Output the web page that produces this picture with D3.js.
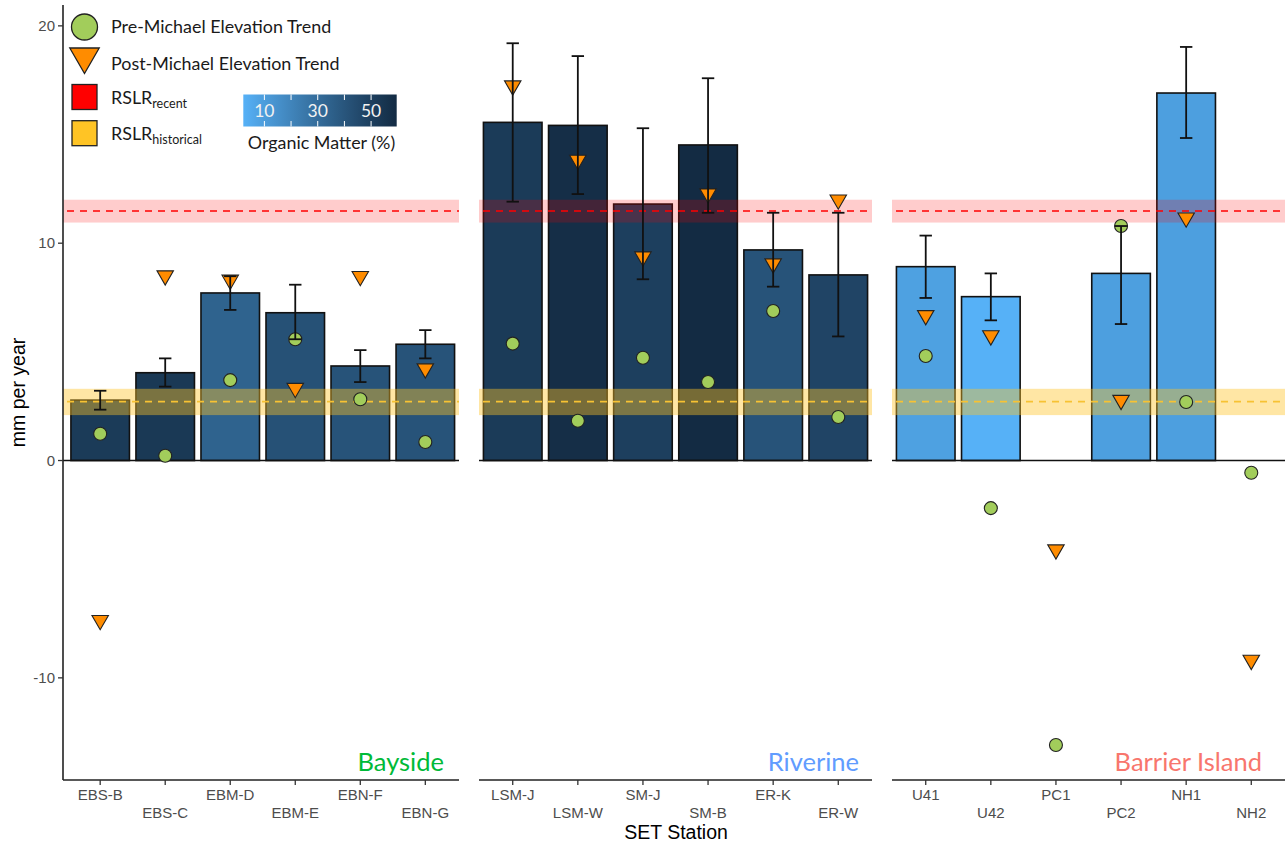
<!DOCTYPE html>
<html>
<head>
<meta charset="utf-8">
<script src="https://cdn.jsdelivr.net/npm/d3@7"></script>
<style>
  body { margin: 0; background: #fff; }
  svg { display: block; }
</style>
</head>
<body>
<svg id="chart" width="1285" height="843"></svg>
<script>
// ---- data ----
const regions = ["Bayside", "Riverine", "Barrier Island"];
const regionColors = ["#00BA38", "#619CFF", "#F8766D"];
const stations = ["EBS-B","EBS-C","EBM-D","EBM-E","EBN-F","EBN-G",
                  "LSM-J","LSM-W","SM-J","SM-B","ER-K","ER-W",
                  "U41","U42","PC1","PC2","NH1","NH2"];
const stationRegion = ["Bayside","Bayside","Bayside","Bayside","Bayside","Bayside",
                       "Riverine","Riverine","Riverine","Riverine","Riverine","Riverine",
                       "Barrier Island","Barrier Island","Barrier Island","Barrier Island","Barrier Island","Barrier Island"];
// long-term elevation trend (bar) with its error range
const barTrend = [2.78, 4.04, 7.71, 6.80, 4.35, 5.35, 15.56, 15.42, 11.80, 14.52, 9.69, 8.54, 8.92, 7.54, null, 8.61, 16.91, null];
const errLow   = [2.34, 3.40, 6.93, 5.58, 3.61, 4.70, 11.91, 12.26, 8.34, 11.40, 8.00, 5.71, 7.48, 6.45, null, 6.28, 14.84, null];
const errHigh  = [3.21, 4.70, 8.48, 8.09, 5.08, 6.00, 19.20, 18.61, 15.29, 17.59, 11.40, 11.40, 10.35, 8.61, null, 10.79, 19.03, null];
const preMichael  = [1.23, 0.22, 3.70, 5.58, 2.82, 0.85, 5.38, 1.83, 4.73, 3.61, 6.88, 2.00, 4.81, -2.19, -13.09, 10.79, 2.69, -0.56];
const postMichael = [-7.35, 8.51, 8.31, 3.33, 8.48, 4.23, 17.25, 13.83, 9.38, 12.28, 9.06, 12.00, 6.68, 5.75, -4.10, 2.78, 11.17, -9.18];
const organicMatter = [52, 53, 34, 42, 41, 41, 52, 58, 50, 59.6, 41, 47.5, 8.5, 2.1, null, 9, 9, null];
// sea-level rise rates: [lower, mean, upper]
const rslrRecent = [10.95, 11.48, 12.00];
const rslrHistorical = [2.09, 2.71, 3.30];
const yTicks = [-10, 0, 10, 20];
const omTicks = [10, 20, 30, 40, 50];
const omLabels = [10, 30, 50];

// ---- layout ----
const svg = d3.select("#chart");
const plotTop = 5, plotBottom = 780;
const panels = [
  { left: 63, right: 459, bandLeft: 66.5, labelInset: 15 },
  { left: 479, right: 872, bandLeft: 479, labelInset: 13 },
  { left: 892, right: 1285, bandLeft: 892, labelInset: 23 }
];
const y = d3.scaleLinear().domain([-14.70, 20.96]).range([plotBottom, plotTop]);

const omExtent = d3.extent(organicMatter.filter(v => v != null));
const fill = d3.scaleLinear().domain(omExtent).range(["#56B1F7", "#132B43"]).interpolate(d3.interpolateLab);

const pointGreen = "#A2CD5B";
const triOrange = "#FF8C00";
const triR = 9.5;
const triPath = r => {
  const xc = r * Math.sqrt(3) / 2;
  return `M${-xc},${-r / 2}L${xc},${-r / 2}L0,${r}Z`;
};

const rows = stations.map((s, i) => ({
  station: s, region: stationRegion[i], bar: barTrend[i], lo: errLow[i], hi: errHigh[i],
  pre: preMichael[i], post: postMichael[i], om: organicMatter[i]
}));

const tickFont = "'Liberation Sans', Arial, sans-serif";
const labelFont = "Lato, 'Open Sans', sans-serif";

regions.forEach((reg, pi) => {
  const p = panels[pi];
  const data = rows.filter(d => d.region === reg);
  const x = d3.scaleBand().domain(data.map(d => d.station))
    .range([p.bandLeft, p.right]).paddingInner(0.1).paddingOuter(0.068);
  const bw = x.bandwidth();
  const cx = d => x(d.station) + bw / 2;
  const g = svg.append("g");

  // bars
  g.selectAll("rect.bar").data(data.filter(d => d.bar != null)).join("rect")
    .attr("x", d => x(d.station)).attr("width", bw)
    .attr("y", d => y(d.bar)).attr("height", d => y(0) - y(d.bar))
    .attr("fill", d => fill(d.om)).attr("stroke", "#111").attr("stroke-width", 1.6);

  // RSLR bands and dashed lines
  [[rslrRecent, "#FF0000", 0.2, "#FF0000"], [rslrHistorical, "#FFC425", 0.42, "#F7C233"]].forEach(([r, c, a, lc]) => {
    g.append("rect").attr("x", p.left).attr("width", p.right - p.left)
      .attr("y", y(r[2])).attr("height", y(r[0]) - y(r[2]))
      .attr("fill", c).attr("fill-opacity", a);
    g.append("line").attr("x1", p.left + 4).attr("x2", p.right)
      .attr("y1", y(r[1])).attr("y2", y(r[1]))
      .attr("stroke", lc).attr("stroke-width", 1.6).attr("stroke-dasharray", "7,6");
  });

  // zero line
  g.append("line").attr("x1", p.left).attr("x2", p.right)
    .attr("y1", y(0)).attr("y2", y(0)).attr("stroke", "#111").attr("stroke-width", 1.6);

  // pre-Michael points
  g.selectAll("circle.pre").data(data).join("circle")
    .attr("cx", cx).attr("cy", d => y(d.pre)).attr("r", 6.5)
    .attr("fill", pointGreen).attr("stroke", "#222").attr("stroke-width", 1.1);

  // post-Michael points
  g.selectAll("path.post").data(data).join("path")
    .attr("d", triPath(triR))
    .attr("transform", d => `translate(${cx(d)},${y(d.post)})`)
    .attr("fill", triOrange).attr("stroke", "#222").attr("stroke-width", 1.1);

  // error bars
  const eb = data.filter(d => d.lo != null);
  const cap = 6.2;
  g.selectAll("line.ev").data(eb).join("line")
    .attr("x1", cx).attr("x2", cx).attr("y1", d => y(d.lo)).attr("y2", d => y(d.hi))
    .attr("stroke", "#111").attr("stroke-width", 1.8);
  ["lo", "hi"].forEach(k => {
    g.selectAll("line.cap" + k).data(eb).join("line")
      .attr("x1", d => cx(d) - cap).attr("x2", d => cx(d) + cap)
      .attr("y1", d => y(d[k])).attr("y2", d => y(d[k]))
      .attr("stroke", "#111").attr("stroke-width", 1.8);
  });

  // bottom axis
  g.append("line").attr("x1", p.left).attr("x2", p.right)
    .attr("y1", plotBottom).attr("y2", plotBottom).attr("stroke", "#222").attr("stroke-width", 1.6);
  data.forEach((d, i) => {
    g.append("line").attr("x1", cx(d)).attr("x2", cx(d))
      .attr("y1", plotBottom).attr("y2", plotBottom + 5).attr("stroke", "#333").attr("stroke-width", 1.3);
    g.append("text").attr("x", cx(d)).attr("y", plotBottom + (i % 2 === 0 ? 20 : 38))
      .attr("text-anchor", "middle").attr("font-family", tickFont).attr("font-size", 15)
      .attr("fill", "#4D4D4D").text(d.station);
  });

  // region label
  g.append("text").attr("x", p.right - p.labelInset).attr("y", 771)
    .attr("text-anchor", "end").attr("font-family", labelFont).attr("font-size", 25.5)
    .attr("fill", regionColors[pi]).text(reg);
});

// y axis
const ya = svg.append("g");
ya.append("line").attr("x1", 63).attr("x2", 63).attr("y1", plotTop).attr("y2", plotBottom)
  .attr("stroke", "#222").attr("stroke-width", 1.6);
yTicks.forEach(t => {
  ya.append("line").attr("x1", 58).attr("x2", 63).attr("y1", y(t)).attr("y2", y(t))
    .attr("stroke", "#333").attr("stroke-width", 1.3);
  ya.append("text").attr("x", 55).attr("y", y(t)).attr("dy", "0.35em")
    .attr("text-anchor", "end").attr("font-family", tickFont).attr("font-size", 15)
    .attr("fill", "#4D4D4D").text(t);
});

// axis titles
svg.append("text").attr("transform", `translate(25,${(plotTop + plotBottom) / 2}) rotate(-90)`)
  .attr("text-anchor", "middle").attr("font-family", tickFont).attr("font-size", 19.5)
  .attr("fill", "#000").text("mm per year");
svg.append("text").attr("x", 676).attr("y", 839)
  .attr("text-anchor", "middle").attr("font-family", tickFont).attr("font-size", 19.5)
  .attr("fill", "#000").text("SET Station");

// ---- legend ----
const lg = svg.append("g").attr("font-family", labelFont).attr("font-size", 17.9).attr("fill", "#1a1a1a");
lg.append("circle").attr("cx", 84.5).attr("cy", 27).attr("r", 13)
  .attr("fill", pointGreen).attr("stroke", "#222").attr("stroke-width", 1.3);
lg.append("text").attr("x", 111).attr("y", 27).attr("dy", "0.35em").text("Pre-Michael Elevation Trend");
lg.append("path").attr("d", triPath(17)).attr("transform", "translate(84.5,56.5)")
  .attr("fill", triOrange).attr("stroke", "#222").attr("stroke-width", 1.3);
lg.append("text").attr("x", 111).attr("y", 64).attr("dy", "0.35em").text("Post-Michael Elevation Trend");
[["#FF0000", 84.5, "recent"], ["#FFC425", 120.7, "historical"]].forEach(([c, top, sub]) => {
  lg.append("rect").attr("x", 72).attr("y", top).attr("width", 25).attr("height", 25)
    .attr("fill", c).attr("stroke", "#222").attr("stroke-width", 1.3);
  const t = lg.append("text").attr("x", 111).attr("y", top + 19);
  t.append("tspan").text("RSLR");
  t.append("tspan").attr("font-size", 12.5).attr("dy", 4).text(sub);
});

// organic matter colour bar
const omX = d3.scaleLinear().domain(omExtent).range([243.3, 396.7]);
const grad = svg.append("defs").append("linearGradient").attr("id", "omGrad");
d3.range(0, 1.0001, 0.1).forEach(t => {
  grad.append("stop").attr("offset", t).attr("stop-color", fill(omExtent[0] + t * (omExtent[1] - omExtent[0])));
});
const cb = svg.append("g");
cb.append("rect").attr("x", omX.range()[0]).attr("y", 94.5)
  .attr("width", omX.range()[1] - omX.range()[0]).attr("height", 32).attr("fill", "url(#omGrad)");
omTicks.forEach(t => {
  cb.append("line").attr("x1", omX(t)).attr("x2", omX(t)).attr("y1", 94.5).attr("y2", 100)
    .attr("stroke", "#fff").attr("stroke-width", 1);
  cb.append("line").attr("x1", omX(t)).attr("x2", omX(t)).attr("y1", 121).attr("y2", 126.5)
    .attr("stroke", "#fff").attr("stroke-width", 1);
});
omLabels.forEach(t => {
  cb.append("text").attr("x", omX(t)).attr("y", 110.5).attr("dy", "0.35em")
    .attr("text-anchor", "middle").attr("font-family", labelFont).attr("font-size", 17.5)
    .attr("fill", "#f2f2f2").text(t);
});
cb.append("text").attr("x", 321.5).attr("y", 143).attr("dy", "0.35em")
  .attr("text-anchor", "middle").attr("font-family", labelFont).attr("font-size", 17.9)
  .attr("fill", "#1a1a1a").text("Organic Matter (%)");
</script>
</body>
</html>
